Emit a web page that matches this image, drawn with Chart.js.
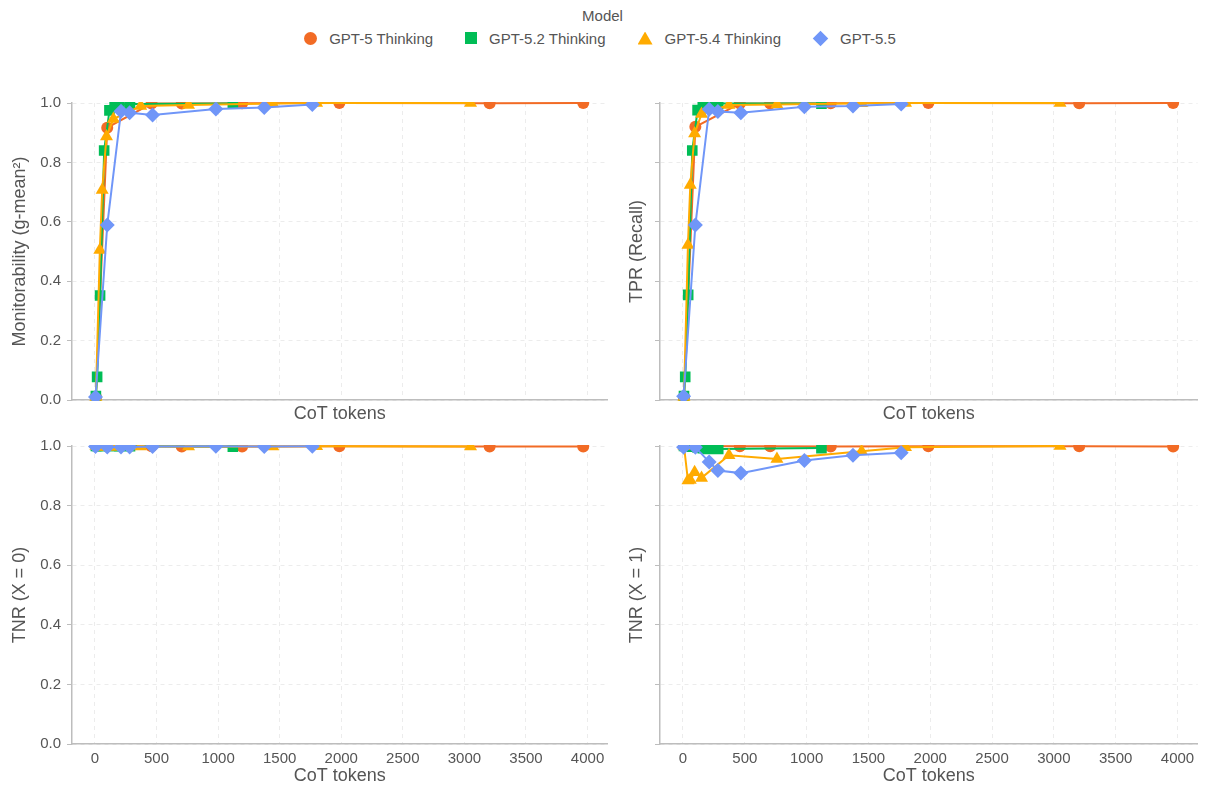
<!DOCTYPE html>
<html>
<head>
<meta charset="utf-8">
<script src="https://cdn.jsdelivr.net/npm/chart.js@4.4.1/dist/chart.umd.min.js"></script>
<style>
  body { margin: 0; background: #fff; width: 1205px; height: 791px; position: relative; overflow: hidden;
         font-family: 'Liberation Sans', Arial, sans-serif; color: #555; }
  canvas { position: absolute; }
  #legendTitle { position: absolute; top: 7px; left: 0; width: 1205px; text-align: center; font-size: 15px; color: #555; }
  #legend { position: absolute; top: 28px; left: 0; width: 1200px; display: flex; justify-content: center; font-size: 15px; color: #555; }
  .item { display: flex; align-items: center; margin: 0 16px; height: 20px; }
  .mk { display: inline-block; margin-right: 12px; }
  .circle { width: 13px; height: 13px; border-radius: 50%; }
  .square { width: 12px; height: 12px; }
  .tri { width: 15px; height: 13px; clip-path: polygon(50% 0, 100% 100%, 0 100%); }
  .diamond { width: 11px; height: 11px; transform: rotate(45deg); margin-left: 2px; margin-right: 14px; }
</style>
</head>
<body>
<div id="legendTitle">Model</div>
<div id="legend">
  <span class="item"><span class="mk circle" style="background:#F26B25"></span>GPT-5 Thinking</span>
  <span class="item"><span class="mk square" style="background:#00BD56"></span>GPT-5.2 Thinking</span>
  <span class="item"><span class="mk tri" style="background:#FFAB00"></span>GPT-5.4 Thinking</span>
  <span class="item"><span class="mk diamond" style="background:#7096F8"></span>GPT-5.5</span>
</div>
<canvas id="pMonit" width="615" height="337" style="left:0;top:88px"></canvas>
<canvas id="pTpr" width="590" height="332" style="left:615px;top:93px"></canvas>
<canvas id="pTnr0" width="615" height="360" style="left:0;top:431px"></canvas>
<canvas id="pTnr1" width="590" height="355" style="left:615px;top:436px"></canvas>
<script>
const tokenTicks = [0, 500, 1000, 1500, 2000, 2500, 3000, 3500, 4000];
const rateTicks = [0, 0.2, 0.4, 0.6, 0.8, 1.0];
const modelNames = ['GPT-5 Thinking', 'GPT-5.2 Thinking', 'GPT-5.4 Thinking', 'GPT-5.5'];

// GPT-5 Thinking
const gpt5Tokens = [8, 100, 460, 705, 1195, 1985, 3205, 3965];
const gpt5Monit  = [0.01, 0.917, 0.998, 0.998, 0.999, 1.0, 0.999, 1.0];
const gpt5Tpr    = [0.01, 0.92, 0.998, 0.998, 0.999, 1.0, 0.999, 1.0];
const gpt5TnrX0  = [1.0, 1.0, 0.999, 0.998, 0.998, 0.999, 0.998, 0.998];
const gpt5TnrX1  = [1.0, 1.0, 0.999, 0.999, 0.998, 0.999, 0.999, 0.998];

// GPT-5.2 Thinking
const gpt52Tokens = [8, 18, 42, 75, 118, 160, 200, 285, 1120];
const gpt52Monit  = [0.013, 0.078, 0.352, 0.84, 0.975, 0.99, 0.995, 0.997, 0.998];
const gpt52Tpr    = [0.013, 0.078, 0.354, 0.84, 0.976, 0.99, 0.995, 0.998, 0.998];
const gpt52TnrX0  = [1.0, 1.0, 1.0, 1.0, 1.0, 1.0, 0.999, 0.999, 0.998];
const gpt52TnrX1  = [1.0, 1.0, 1.0, 0.998, 0.995, 0.993, 0.99, 0.99, 0.993];

// GPT-5.4 Thinking
const gpt54Tokens = [8, 40, 59, 94, 150, 372, 760, 1445, 1800, 3050];
const gpt54Monit  = [0.01, 0.505, 0.707, 0.887, 0.946, 0.99, 0.993, 0.998, 1.0, 1.0];
const gpt54Tpr    = [0.01, 0.522, 0.724, 0.897, 0.963, 0.993, 0.995, 0.999, 1.0, 1.0];
const gpt54TnrX0  = [1.0, 0.998, 0.997, 0.998, 0.997, 0.998, 0.998, 0.998, 0.999, 0.998];
const gpt54TnrX1  = [1.0, 0.884, 0.886, 0.912, 0.893, 0.969, 0.956, 0.982, 0.996, 1.0];

// GPT-5.5
const gpt55Tokens = [5, 100, 212, 282, 468, 982, 1375, 1765];
const gpt55Monit  = [0.01, 0.589, 0.972, 0.967, 0.96, 0.98, 0.985, 0.995];
const gpt55Tpr    = [0.013, 0.589, 0.979, 0.971, 0.967, 0.987, 0.99, 0.997];
const gpt55TnrX0  = [0.998, 0.997, 0.997, 0.997, 0.998, 0.999, 0.998, 0.999];
const gpt55TnrX1  = [0.996, 0.996, 0.946, 0.918, 0.909, 0.951, 0.969, 0.977];

const modelTokens = [gpt5Tokens, gpt52Tokens, gpt54Tokens, gpt55Tokens];
const colors = ['#F26B25', '#00BD56', '#FFAB00', '#7096F8'];
const pointStyles = ['circle', 'rect', 'triangle', 'rectRot'];
const pointSizes = [6, 7.5, 7.5, 7.5];

const FONT = "'Liberation Sans', Arial, sans-serif";

function makePanel(canvasId, values, o) {
    const ctx = document.getElementById(canvasId).getContext('2d');
    const datasets = modelNames.map((name, i) => ({
        label: name,
        data: modelTokens[i].map((t, k) => ({ x: t, y: values[i][k] })),
        borderColor: colors[i],
        backgroundColor: colors[i],
        borderWidth: 2,
        pointStyle: pointStyles[i],
        pointRadius: pointSizes[i],
        pointBorderWidth: 0,
        tension: 0,
        clip: 1,
        order: 3 - i
    }));
    new Chart(ctx, {
        type: 'line',
        data: { datasets: datasets },
        options: {
            responsive: false,
            animation: false,
            layout: { padding: { top: 10, right: o.padRight, left: 0, bottom: 0 } },
            plugins: { legend: { display: false }, tooltip: { enabled: false } },
            scales: {
                x: {
                    type: 'linear',
                    min: -186,
                    max: 4162,
                    afterBuildTicks: s => { s.ticks = tokenTicks.map(v => ({ value: v })); },
                    afterFit: s => { s.height = o.xHeight; },
                    ticks: {
                        display: o.xLabels,
                        color: '#555',
                        padding: 6,
                        maxRotation: 0,
                        font: { family: FONT, size: 15 },
                        callback: v => String(v)
                    },
                    grid: { color: '#ececec', drawTicks: false },
                    border: { color: '#bdbdbd', width: 1.5, dash: [4, 4] },
                    title: {
                        display: true,
                        text: 'CoT tokens',
                        color: '#555',
                        font: { family: FONT, size: 18 },
                        padding: { top: 0, bottom: o.xTitlePad }
                    }
                },
                y: {
                    min: 0,
                    max: 1,
                    afterBuildTicks: s => { s.ticks = rateTicks.map(v => ({ value: v })); },
                    afterFit: s => { s.width = o.yWidth; },
                    ticks: {
                        display: o.yLabels,
                        color: '#555',
                        padding: 6,
                        font: { family: FONT, size: 15 },
                        callback: v => Number(v).toFixed(1)
                    },
                    grid: { color: '#ececec', drawTicks: true, tickLength: 5, tickColor: '#bdbdbd', tickBorderDash: [] },
                    border: { color: '#bdbdbd', width: 1.5, dash: [4, 4] },
                    title: {
                        display: true,
                        text: o.yTitle,
                        color: '#555',
                        font: { family: FONT, size: 18 },
                        padding: { top: o.yTitlePad, bottom: 0 }
                    }
                }
            }
        }
    });
}

makePanel('pMonit', [gpt5Monit, gpt52Monit, gpt54Monit, gpt55Monit],
    { padRight: 5, xHeight: 25, xLabels: false, xTitlePad: 0, yWidth: 72, yLabels: true, yTitle: 'Monitorability (g-mean²)', yTitlePad: 9 });
makePanel('pTpr', [gpt5Tpr, gpt52Tpr, gpt54Tpr, gpt55Tpr],
    { padRight: 7, xHeight: 25, xLabels: false, xTitlePad: 0, yWidth: 45, yLabels: false, yTitle: 'TPR (Recall)', yTitlePad: 11 });
makePanel('pTnr0', [gpt5TnrX0, gpt52TnrX0, gpt54TnrX0, gpt55TnrX0],
    { padRight: 5, xHeight: 47, xLabels: true, xTitlePad: 4, yWidth: 72, yLabels: true, yTitle: 'TNR (X = 0)', yTitlePad: 9 });
makePanel('pTnr1', [gpt5TnrX1, gpt52TnrX1, gpt54TnrX1, gpt55TnrX1],
    { padRight: 7, xHeight: 47, xLabels: true, xTitlePad: 4, yWidth: 45, yLabels: false, yTitle: 'TNR (X = 1)', yTitlePad: 11 });
</script>
</body>
</html>
